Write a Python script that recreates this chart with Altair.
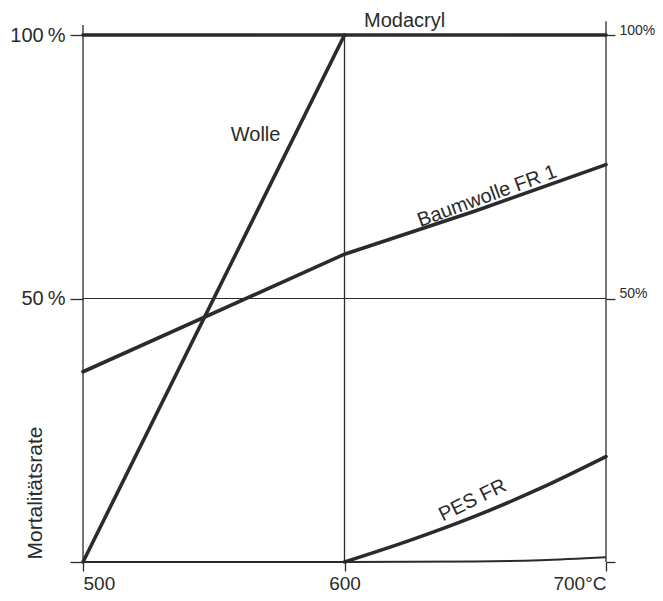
import altair as alt
import pandas as pd

# ---- data ----
wolle_x = [500, 600]
wolle_y = [0, 100]

modacryl_x = [500, 600, 700]
modacryl_y = [100, 100, 100]

baum_x = [500, 600, 650, 700]
baum_y = [36.1, 58.4, 66.6, 75.4]

pes_x = [600, 625, 650, 675, 700]
pes_y = [0, 4.1, 8.7, 14.0, 20.0]

base_x = [500, 600, 650, 675, 700]
base_y = [0, 0, 0.1, 0.35, 0.9]

vline_x = [500, 600, 700]
vline_top = [101.9, 100, 102.6]

hline_y = [50]

label_text = ["Modacryl", "Wolle", "Baumwolle FR 1", "PES FR"]
label_x = [623, 566, 654.5, 649]
label_y = [102.6, 81.1, 69.4, 11.7]
label_angle = [0, 0, 340, 334]

x_ticks = [500, 600, 700]
y_ticks = [0, 50, 100]

# ---- tables ----
rows = []
for name, xs, ys in [("Wolle", wolle_x, wolle_y),
                     ("Modacryl", modacryl_x, modacryl_y),
                     ("Baumwolle FR 1", baum_x, baum_y)]:
    for a, b in zip(xs, ys):
        rows.append({"serie": name, "t": a, "m": b})
lines_df = pd.DataFrame(rows)
pes_df = pd.DataFrame({"t": pes_x, "m": pes_y})
base_df = pd.DataFrame({"t": base_x, "m": base_y})
vline_df = pd.DataFrame({"t": vline_x, "bot": [0] * len(vline_x), "top": vline_top})
hline_df = pd.DataFrame({"m": hline_y})
labels_df = pd.DataFrame({"txt": label_text, "t": label_x, "m": label_y, "ang": label_angle})

INK = "#2b2b2b"
FONT = "Liberation Sans"

xscale = alt.Scale(domain=[500, 700], nice=False, zero=False)
yscale = alt.Scale(domain=[0, 100], nice=False, zero=False)

x_axis = alt.Axis(values=x_ticks, title=None, grid=False, domain=False,
                  tickSize=9, labelPadding=3, labelFontSize=19,
                  labelExpr="datum.value == 700 ? '700°C' : datum.value")

left_axis = alt.Axis(orient="left", values=y_ticks, grid=False, domain=False,
                     tickSize=13, labelPadding=5, labelFontSize=20,
                     labelExpr="datum.value == 100 ? '100\u2009%' : datum.value == 50 ? '50\u2009%' : ''",
                     title="Mortalitätsrate", titleFontSize=21, titleFontWeight="normal",
                     titleAngle=270, titleAlign="left", titleBaseline="middle",
                     titleX=-48, titleY=524, titleColor=INK, titleFont=FONT)

right_axis = alt.Axis(orient="right", values=y_ticks, grid=False, domain=False,
                      tickSize=9, labelPadding=4, labelFontSize=14, labelOffset=-5,
                      labelExpr="datum.value == 100 ? '100%' : datum.value == 50 ? '50%' : ''",
                      title=None)

X = alt.X("t:Q", scale=xscale, axis=x_axis)

vlines = alt.Chart(vline_df).mark_rule(color=INK, strokeWidth=1.3, clip=False).encode(
    x=X,
    y=alt.Y("bot:Q", scale=yscale, axis=right_axis),
    y2="top:Q",
)

hline = alt.Chart(hline_df).mark_rule(color=INK, strokeWidth=1.2).encode(
    y=alt.Y("m:Q", scale=yscale, axis=None),
)

base = alt.Chart(base_df).mark_line(color=INK, strokeWidth=2, interpolate="monotone", clip=False).encode(
    x=X,
    y=alt.Y("m:Q", scale=yscale, axis=None),
)

thick = alt.Chart(lines_df).mark_line(color=INK, strokeWidth=3.6, interpolate="linear",
                                      clip=False, strokeCap="round").encode(
    x=X,
    y=alt.Y("m:Q", scale=yscale, axis=left_axis),
    detail="serie:N",
)

pes = alt.Chart(pes_df).mark_line(color=INK, strokeWidth=3.6, interpolate="monotone",
                                  clip=False, strokeCap="round").encode(
    x=X,
    y=alt.Y("m:Q", scale=yscale, axis=None),
)

texts = alt.Chart(labels_df).mark_text(font=FONT, fontSize=20, color=INK,
                                       baseline="middle", align="center").encode(
    x=X,
    y=alt.Y("m:Q", scale=yscale, axis=None),
    text="txt:N",
    angle=alt.Angle("ang:Q", scale=None),
)

chart = alt.layer(hline, vlines, base, thick, pes, texts).resolve_axis(y="independent").properties(
    width=523, height=527,
    autosize=alt.AutoSizeParams(type="none"),
    padding={"left": 75, "top": 27, "right": 49, "bottom": 31},
    background="white",
).configure_view(stroke=None).configure_axis(
    labelFont=FONT, labelColor=INK, tickColor=INK, tickWidth=1.3,
)

chart.save("out.html", embed_options={"renderer": "svg", "actions": False})
